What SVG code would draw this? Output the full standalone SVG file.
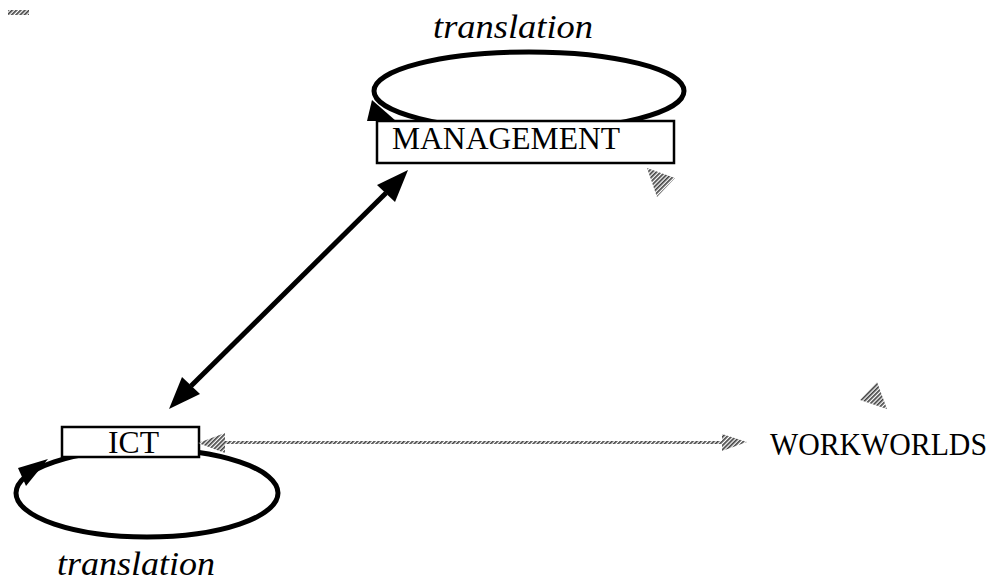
<svg xmlns="http://www.w3.org/2000/svg" width="995" height="581" viewBox="0 0 995 581">
<style>
.box{fill:#fff;stroke:#000;stroke-width:2.5}
.loop{fill:none;stroke:#000;stroke-width:5}
.lbl{font-family:"Liberation Serif",serif;font-size:31px;fill:#000}
.it{font-family:"Liberation Serif",serif;font-style:italic;font-size:34px;fill:#000}
.hatch{fill:url(#hp)}
</style>
<defs>
<pattern id="hp" width="3" height="3" patternUnits="userSpaceOnUse" patternTransform="rotate(45)">
<rect width="3" height="3" fill="#fff"/>
<rect width="1.7" height="3" fill="#444"/>
</pattern>
</defs>
<rect x="8" y="10" width="21" height="5" class="hatch"/>
<g id="management">
<ellipse cx="529" cy="91" rx="155" ry="39" class="loop"/>
<polygon points="372,100 367,121 396,121" fill="#000"/>
<rect x="377" y="121" width="297" height="42" class="box"/>
<text x="392" y="149" class="lbl" textLength="228" lengthAdjust="spacingAndGlyphs">MANAGEMENT</text>
<text x="433" y="38" class="it" textLength="160" lengthAdjust="spacingAndGlyphs">translation</text>
</g>
<g id="ict">
<ellipse cx="147" cy="493" rx="131" ry="44" class="loop"/>
<polygon points="18,468 48,459 26,486" fill="#000"/>
<rect x="62" y="427" width="137" height="30" class="box"/>
<text x="108" y="453" class="lbl" textLength="51" lengthAdjust="spacingAndGlyphs">ICT</text>
<text x="57" y="575" class="it" textLength="158" lengthAdjust="spacingAndGlyphs">translation</text>
</g>
<g id="workworlds">
<text x="770" y="455" class="lbl" textLength="217" lengthAdjust="spacingAndGlyphs">WORKWORLDS</text>
</g>
<g id="connectors">
<line x1="386" y1="193" x2="191" y2="386" stroke="#000" stroke-width="5"/>
<polygon points="408,170 395,202 377,185" fill="#000"/>
<polygon points="169,409 182,377 200,394" fill="#000"/>
<rect x="222" y="441" width="503" height="3" class="hatch"/>
<polygon points="198,443 225,433 225,453" class="hatch"/>
<polygon points="747,442 722,434 722,451" class="hatch"/>
<polygon points="647,168 675,178 657,197" class="hatch"/>
<polygon points="877,382 860,400 887,409" class="hatch"/>
</g>
</svg>
